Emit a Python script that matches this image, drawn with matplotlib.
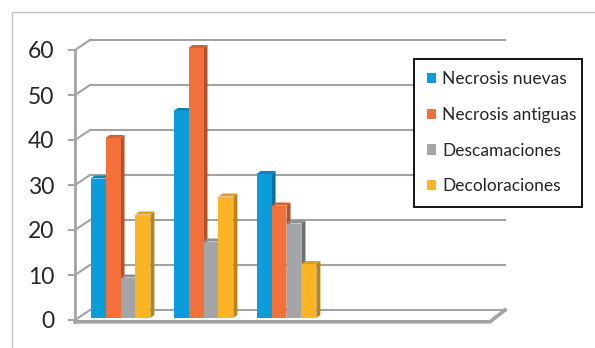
import numpy as np
import matplotlib
matplotlib.use('Agg')
import matplotlib.pyplot as plt
from matplotlib.patches import Polygon, Rectangle, Patch
from matplotlib.lines import Line2D

# ---------------- data ----------------
n_slots = 5  # category slots along the floor (only first 3 hold data)
series_names = ['Necrosis nuevas', 'Necrosis antiguas', 'Descamaciones', 'Decoloraciones']
necrosis_nuevas = [31, 46, 32]
necrosis_antiguas = [40, 60, 25]
descamaciones = [9, 17, 21]
decoloraciones = [23, 27, 12]
yticks = [0, 10, 20, 30, 40, 50, 60]

series = [necrosis_nuevas, necrosis_antiguas, descamaciones, decoloraciones]
front_cols = ['#0A9DD9', '#F2703A', '#A3A5A8', '#FBB424']
side_cols = ['#08709C', '#B4502A', '#6C6E71', '#B8831A']
top_cols = ['#0C86BA', '#D45F30', '#8C8E91', '#DC9D20']

plt.rcParams['font.family'] = ['Lato', 'DejaVu Sans']

W, H = 595, 348
fig = plt.figure(figsize=(W / 100, H / 100), dpi=100)
ax = fig.add_axes([75 / W, 28 / H, 415 / W, 270 / H])
ax.set_xlim(-0.5, n_slots - 0.5)
ax.set_ylim(0, 60)

# pixel -> data conversion
sx = 415 / n_slots          # px per category unit
sy = 270 / 60               # px per value unit
def d(px, py):
    return px / sx, py / sy

BACK = d(15, 10)
BAR_OFF = d(4, 2)
DEPTH = d(4, 3)
GRID_C = '#A3A3A3'
GRID_LW = 1.5

z = 1
x_left, x_right = -0.5, n_slots - 0.5
# back wall gridlines + left wall diagonals
for v in yticks:
    if v > 0:
        ax.add_line(Line2D([x_left + BACK[0], x_right + BACK[0]], [v + BACK[1], v + BACK[1]],
                           color=GRID_C, lw=GRID_LW, clip_on=False, zorder=z))
    ax.add_line(Line2D([x_left, x_left + BACK[0]], [v, v + BACK[1]],
                       color=GRID_C, lw=GRID_LW, clip_on=False, zorder=z))

# floor
ax.add_line(Line2D([x_left + BACK[0], x_right + BACK[0]], [BACK[1], BACK[1]],
                   color=GRID_C, lw=GRID_LW, clip_on=False, zorder=z))
ax.add_line(Line2D([x_left, x_right, x_right + BACK[0]],
                   [-0.4, -0.4, BACK[1]],
                   color=GRID_C, lw=2.6, clip_on=False, zorder=z, solid_joinstyle='miter'))

# bars
bw = 0.18
z = 3
for i in range(len(necrosis_nuevas)):
    for k, vals in enumerate(series):
        v = vals[i]
        xc = i + (k - 1.5) * bw + BAR_OFF[0]
        x0, x1 = xc - bw / 2, xc + bw / 2
        y0 = BAR_OFF[1]
        y1 = v + BAR_OFF[1]
        ddx, ddy = DEPTH
        ax.add_patch(Polygon([(x1, y0), (x1 + ddx, y0 + ddy), (x1 + ddx, y1 + ddy), (x1, y1)],
                             closed=True, facecolor=side_cols[k], edgecolor='none',
                             clip_on=False, zorder=z))
        ax.add_patch(Polygon([(x0, y1), (x1, y1), (x1 + ddx, y1 + ddy), (x0 + ddx, y1 + ddy)],
                             closed=True, facecolor=top_cols[k], edgecolor='none',
                             clip_on=False, zorder=z))
        ax.add_patch(Rectangle((x0, y0), bw, v, facecolor=front_cols[k], edgecolor='none',
                               clip_on=False, zorder=z + 0.5))
        z += 1

# axes styling
for s in ['top', 'right', 'bottom']:
    ax.spines[s].set_visible(False)
ax.spines['left'].set_color(GRID_C)
ax.spines['left'].set_linewidth(2)
ax.spines['left'].set_bounds(-0.4, 60)
ax.set_xticks([])
ax.set_yticks(yticks)
ax.tick_params(axis='y', length=5, width=1.4, color=GRID_C, pad=10,
               labelsize=16.5, labelcolor='#262626')
ax.patch.set_visible(False)

# legend
handles = [Patch(facecolor=c, edgecolor='none') for c in front_cols]
leg = fig.legend(handles, series_names, loc='upper left',
                 bbox_to_anchor=(414 / W, 1 - 62 / H, 168 / W, 0.01),
                 bbox_transform=fig.transFigure, mode='expand',
                 fontsize=12.5, labelspacing=1.13, handlelength=0.55, handleheight=0.55,
                 handletextpad=0.35, borderpad=0.74, borderaxespad=0,
                 fancybox=False, shadow=False, framealpha=1)
leg.get_frame().set_edgecolor('#000000')
leg.get_frame().set_linewidth(1.3)
for t in leg.get_texts():
    t.set_color('#262626')

# outer chart border
fig.add_artist(Rectangle((12 / W, -0.1), 1.0, 1 - 12 / H + 0.1, transform=fig.transFigure,
                         fill=False, edgecolor='#C4C4C4', lw=1.0))

fig.savefig('out.png', dpi=100)
